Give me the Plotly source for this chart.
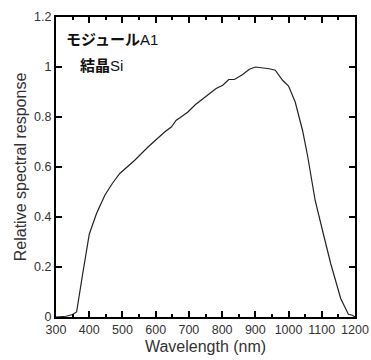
import plotly.graph_objects as go

wavelength = [300, 330, 350, 362, 380, 400, 405, 422, 447, 470, 492, 515, 537, 577, 610, 627, 647, 662,
              672, 697, 720, 742, 782, 802, 820, 837, 862, 882, 900, 942, 960, 982, 1000, 1020, 1042,
              1057, 1072, 1080, 1102, 1127, 1157, 1180, 1192, 1200]
response = [0.0, 0.003, 0.01, 0.02, 0.17, 0.33, 0.35, 0.414, 0.487, 0.535, 0.574, 0.60, 0.627, 0.68,
            0.72, 0.74, 0.76, 0.787, 0.796, 0.82, 0.85, 0.874, 0.914, 0.927, 0.95, 0.95, 0.97, 0.991,
            1.0, 0.993, 0.987, 0.947, 0.924, 0.86, 0.747, 0.647, 0.54, 0.467, 0.347, 0.213, 0.074,
            0.011, 0.007, 0.0]

x_ticks = [300, 400, 500, 600, 700, 800, 900, 1000, 1100, 1200]
y_ticks = [0, 0.2, 0.4, 0.6, 0.8, 1, 1.2]
y_tick_text = ["0", "0.2", "0.4", "0.6", "0.8", "1", "1.2"]

label_module = "<b>モジュール</b>A1"
label_material = "<b>結晶</b>Si"

font_family = "Liberation Sans, Arial, Noto Sans CJK JP, sans-serif"

fig = go.Figure()
fig.add_trace(go.Scatter(x=wavelength, y=response, mode="lines",
                         line=dict(color="#222222", width=1.2), showlegend=False))

fig.add_annotation(x=0.026, y=0.925, xref="paper", yref="paper", text=label_module,
                   showarrow=False, xanchor="left", yanchor="middle",
                   font=dict(family=font_family, size=15, color="#111111"))
fig.add_annotation(x=0.072, y=0.84, xref="paper", yref="paper", text=label_material,
                   showarrow=False, xanchor="left", yanchor="middle",
                   font=dict(family=font_family, size=15, color="#111111"))

fig.update_layout(
    width=371, height=360,
    margin=dict(l=56, r=16, t=17, b=43),
    paper_bgcolor="white", plot_bgcolor="white",
    font=dict(family=font_family, size=12.5, color="#333333"),
    xaxis=dict(range=[300, 1200], tickvals=x_ticks, ticks="inside", ticklen=6, tickwidth=2,
               tickcolor="black", showline=True, linecolor="black", linewidth=2, mirror="ticks",
               showgrid=False, zeroline=False, tickfont=dict(size=12.5), automargin=False,
               minor=dict(dtick=50, ticks="inside", ticklen=3, tickwidth=2, tickcolor="black", showgrid=False),
               title=dict(text="Wavelength (nm)", font=dict(size=16), standoff=5)),
    yaxis=dict(range=[0, 1.2], tickvals=y_ticks, ticktext=y_tick_text, ticks="inside", ticklen=6,
               tickwidth=2, tickcolor="black", showline=True, linecolor="black", linewidth=2,
               mirror="ticks", showgrid=False, zeroline=False, tickfont=dict(size=12.5), automargin=False,
               title=dict(text="Relative spectral response", font=dict(size=16), standoff=4)),
)

fig.write_html("out.html", config={"displayModeBar": False},
               post_script="document.body.style.margin='0';document.body.style.overflow='hidden';")
